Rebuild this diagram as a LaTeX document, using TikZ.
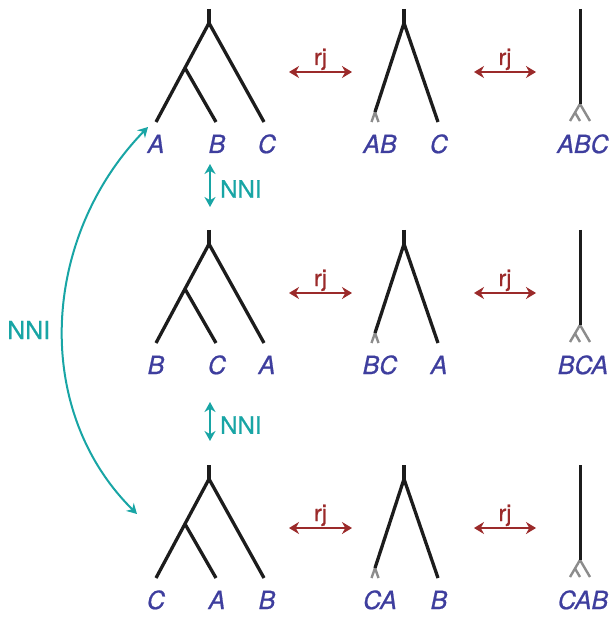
\documentclass[tikz,border=0pt]{standalone}
\usepackage{fontspec}
\setmainfont{TeX Gyre Heros}
\newfontfamily\heavyfont[FakeBold=0.7]{TeX Gyre Heros}
\usetikzlibrary{arrows.meta}
\definecolor{branchblack}{RGB}{28,28,28}
\definecolor{leafblue}{RGB}{62,62,158}
\definecolor{rjred}{RGB}{155,42,42}
\definecolor{nniteal}{RGB}{24,165,165}
\definecolor{forkgrey}{RGB}{140,140,140}
\tikzset{
  branch/.style={draw=branchblack, line width=3.3pt, line join=round},
  stick/.style={draw=branchblack, line width=3pt},
  forkline/.style={draw=forkgrey, line width=2.4pt},
  leaf/.style={text=leafblue, font=\heavyfont\fontsize{25}{25}\selectfont\itshape, inner sep=0pt, anchor=base},
  rjarrow/.style={draw=rjred, line width=2.8pt, {Stealth[length=10pt,width=12pt]}-{Stealth[length=10pt,width=12pt]}},
  rjlabel/.style={text=rjred, font=\heavyfont\fontsize{23}{23}\selectfont, inner sep=0pt, anchor=base},
  nniarrow/.style={draw=nniteal, line width=2.3pt, {Stealth[length=10pt,width=11pt]}-{Stealth[length=10pt,width=11pt]}},
  nnilabel/.style={text=nniteal, font=\heavyfont\fontsize{24}{24}\selectfont, inner sep=0pt},
}
\begin{document}
\begin{tikzpicture}[x=1pt, y=-1pt]
\useasboundingbox (0,0) rectangle (612,617);
\fill[white] (0,0) rectangle (612,617);
\foreach \dy/\la/\lb/\lc/\ma/\mb/\rr/\n in {0/A/B/C/AB/C/ABC/a, 221/B/C/A/BC/A/BCA/b, 456/C/A/B/CA/B/CAB/c}{
  \begin{scope}[yshift=-\dy pt]
    % left tree
    \coordinate (\n L-top) at (209,9);
    \coordinate (\n L-root) at (209,23);
    \coordinate (\n L-in) at (185,68);
    \coordinate (\n L-1) at (156,122);
    \coordinate (\n L-2) at (216,122);
    \coordinate (\n L-3) at (264,122);
    \draw[branch] (\n L-top) -- (\n L-root);
    \draw[branch] (\n L-1) -- (\n L-root) -- (\n L-3);
    \draw[branch] (\n L-in) -- (\n L-2);
    \node[leaf] (\n L-lab1) at (156,153) {\la};
    \node[leaf] (\n L-lab2) at (217,153) {\lb};
    \node[leaf] (\n L-lab3) at (267,153) {\lc};
    % middle tree
    \coordinate (\n M-top) at (404,9);
    \coordinate (\n M-root) at (404,23);
    \coordinate (\n M-1) at (375,112);
    \coordinate (\n M-2) at (438,122);
    \coordinate (\n M-f1) at (371.5,122);
    \coordinate (\n M-f2) at (378.5,122);
    \draw[forkline] (\n M-f1) -- (\n M-1) -- (\n M-f2);
    \draw[branch] (\n M-top) -- (\n M-root);
    \draw[branch] (\n M-1) -- (\n M-root) -- (\n M-2);
    \node[leaf] (\n M-lab1) at (380,153) {\ma};
    \node[leaf] (\n M-lab2) at (439,153) {\mb};
    % right tree
    \coordinate (\n R-top) at (580,9);
    \coordinate (\n R-root) at (580,104);
    \coordinate (\n R-f1) at (570,121);
    \coordinate (\n R-f2) at (590,121);
    \coordinate (\n R-fm) at (575,112.5);
    \coordinate (\n R-f3) at (580,121);
    \draw[forkline] (\n R-f1) -- (\n R-root) -- (\n R-f2);
    \draw[forkline] (\n R-fm) -- (\n R-f3);
    \draw[stick] (\n R-top) -- (\n R-root);
    \node[leaf] (\n R-lab) at (583,153) {\rr};
    % rj arrows
    \coordinate (\n A1-l) at (289,72);
    \coordinate (\n A1-r) at (352,72);
    \coordinate (\n A2-l) at (474,72);
    \coordinate (\n A2-r) at (536,72);
    \draw[rjarrow] (\n A1-l) -- (\n A1-r);
    \draw[rjarrow] (\n A2-l) -- (\n A2-r);
    \node[rjlabel] (\n A1-t) at (320.5,65) {rj};
    \node[rjlabel] (\n A2-t) at (505,65) {rj};
  \end{scope}
}
% vertical NNI arrows
\coordinate (n1-t) at (210,164);
\coordinate (n1-b) at (210,207);
\draw[nniarrow] (n1-t) -- (n1-b);
\node[nnilabel, anchor=west] (n1-lab) at (220,189) {NNI};
\coordinate (n2-t) at (210,402);
\coordinate (n2-b) at (210,441);
\draw[nniarrow] (n2-t) -- (n2-b);
\node[nnilabel, anchor=west] (n2-lab) at (220,425) {NNI};
% big NNI curve
\coordinate (big-t) at (148,127);
\coordinate (big-b) at (137,514);
\draw[nniarrow, line width=2pt] (big-t) .. controls (42,236) and (31,409) .. (big-b);
\node[nnilabel, anchor=west, font=\heavyfont\fontsize{25}{25}\selectfont] (big-lab) at (7,330) {NNI};
\end{tikzpicture}
\end{document}
